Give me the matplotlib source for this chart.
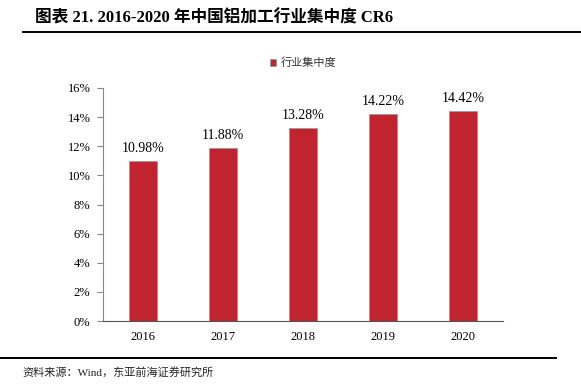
import matplotlib.pyplot as plt
from matplotlib.lines import Line2D

years = ["2016", "2017", "2018", "2019", "2020"]
cr6 = [10.98, 11.88, 13.28, 14.22, 14.42]
yticks = [0, 2, 4, 6, 8, 10, 12, 14, 16]

serif = ["Liberation Serif", "Noto Sans CJK SC"]
cjk = ["Noto Sans CJK SC", "DejaVu Sans"]

fig = plt.figure(figsize=(5.81, 3.90), dpi=100)
ax = fig.add_axes([103 / 581, 1 - 321 / 390, 400 / 581, 233 / 390])

bars = ax.bar(years, cr6, width=0.34, color="#C1232F", edgecolor="#9a9a9a",
              linewidth=0.6, label="行业集中度")
for b, v in zip(bars, cr6):
    ax.text(b.get_x() + b.get_width() / 2, v + 0.4, f"{v:.2f}%",
            ha="center", va="bottom", fontsize=10, family=serif)

ax.set_ylim(0, 16)
ax.set_xlim(-0.5, 4.5)
ax.set_yticks(yticks)
ax.set_yticklabels([f"{t}%" for t in yticks], family=serif, fontsize=9)
for lab in ax.get_xticklabels():
    lab.set_family(serif)
    lab.set_fontsize(9)
ax.tick_params(axis="x", length=0, pad=7)
ax.tick_params(axis="y", length=4, color="#888888", pad=5)
for s in ["top", "right"]:
    ax.spines[s].set_visible(False)
ax.spines["left"].set_color("#888888")
ax.spines["bottom"].set_color("#555555")

leg = ax.legend(loc="upper center", bbox_to_anchor=(0.5, 1.175), frameon=False,
                prop={"family": cjk, "size": 8}, handlelength=0.6,
                handleheight=0.6, handletextpad=0.4)
for t in leg.get_texts():
    t.set_color("#333333")

fig.text(35 / 581, 1 - 18 / 390, "图表 21. 2016-2020 年中国铝加工行业集中度 CR6",
         fontsize=12, fontweight="bold", family=serif, va="center")
fig.add_artist(Line2D([23 / 581, 1], [1 - 32 / 390] * 2, color="black", lw=1.4))
fig.add_artist(Line2D([0, 556 / 581], [1 - 358 / 390] * 2, color="black", lw=1.4))
fig.text(22 / 581, 1 - 372 / 390, "资料来源：Wind，东亚前海证券研究所",
         fontsize=8, family=serif, va="center", color="#222222")

fig.savefig("out.png", dpi=100)
